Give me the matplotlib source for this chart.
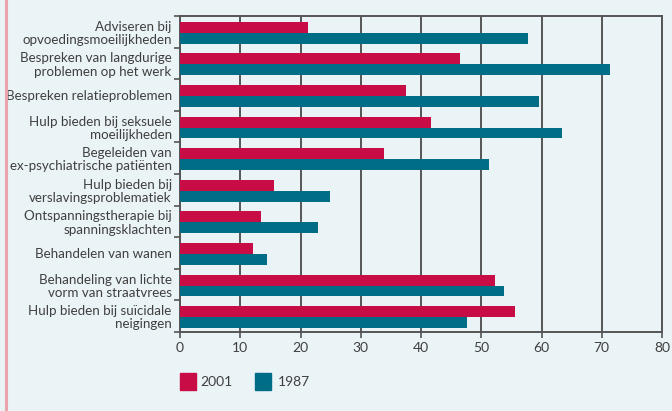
import matplotlib
matplotlib.use("Agg")
import matplotlib.pyplot as plt
import numpy as np

categories = [
    "Adviseren bij\nopvoedingsmoeilijkheden",
    "Bespreken van langdurige\nproblemen op het werk",
    "Bespreken relatieproblemen",
    "Hulp bieden bij seksuele\nmoeilijkheden",
    "Begeleiden van\nex-psychiatrische patiënten",
    "Hulp bieden bij\nverslavingsproblematiek",
    "Ontspanningstherapie bij\nspanningsklachten",
    "Behandelen van wanen",
    "Behandeling van lichte\nvorm van straatvrees",
    "Hulp bieden bij suïcidale\nneigingen",
]
values_2001 = [21.2, 46.5, 37.5, 41.7, 33.9, 15.6, 13.4, 12.1, 52.3, 55.6]
values_1987 = [57.8, 71.4, 59.6, 63.4, 51.3, 24.9, 22.9, 14.4, 53.8, 47.6]
series_labels = ["2001", "1987"]
xticks = [0, 10, 20, 30, 40, 50, 60, 70, 80]

RED = "#c80c45"
TEAL = "#006d87"
BG = "#eaf3f6"
TXT = "#3f3f3f"
GRID = "#555555"
FS = 9.6

plt.rcParams['font.family'] = ['Lato', 'DejaVu Sans']

W, H = 672, 411
fig = plt.figure(figsize=(W/100, H/100), dpi=100, facecolor=BG)
ax = fig.add_axes([180/W, (H-332)/H, (662-180)/W, (332-16)/H])
ax.set_facecolor(BG)

y = np.arange(len(categories))
h = 0.345
ax.barh(y - h/2 + 0.03, values_2001, height=h, color=RED, zorder=3, label=series_labels[0])
ax.barh(y + h/2 + 0.03, values_1987, height=h, color=TEAL, zorder=3, label=series_labels[1])

ax.set_xlim(0, 80)
ax.set_ylim(len(categories) - 0.5, -0.5)
ax.set_xticks(xticks)
ax.set_xticklabels([str(t) for t in xticks], color=TXT, fontsize=10)
ax.set_yticks(y)
ax.set_yticklabels(categories, color=TXT, fontsize=FS, linespacing=1.12)
ax.tick_params(axis='y', which='major', length=0, pad=6)
ax.set_yticks(np.arange(-0.5, len(categories) + 0.5, 1), minor=True)
ax.tick_params(axis='y', which='minor', length=4, width=1.2, color=GRID, direction='out')
ax.tick_params(axis='x', length=4, width=1.2, color=GRID, direction='out', pad=3)

ax.grid(axis='x', color=GRID, linewidth=1.4, zorder=1)
for s in ax.spines.values():
    s.set_color(GRID)
    s.set_linewidth(1.4)

# manual legend
legend_items = [(180, 200, RED), (255, 278, TEAL)]
for (sx, tx, col), lab in zip(legend_items, series_labels):
    fig.add_artist(plt.Rectangle((sx/W, (H-390)/H), 16/W, 17/H, color=col,
                                 transform=fig.transFigure))
    fig.text(tx/W, (H-382)/H, lab, color=TXT, fontsize=10, va='center', ha='left')

# pink left border
fig.add_artist(plt.Line2D([6/W, 6/W], [0, 1], color="#e9a3aa", linewidth=2.2))

fig.savefig("out.png", dpi=100, facecolor=BG)
